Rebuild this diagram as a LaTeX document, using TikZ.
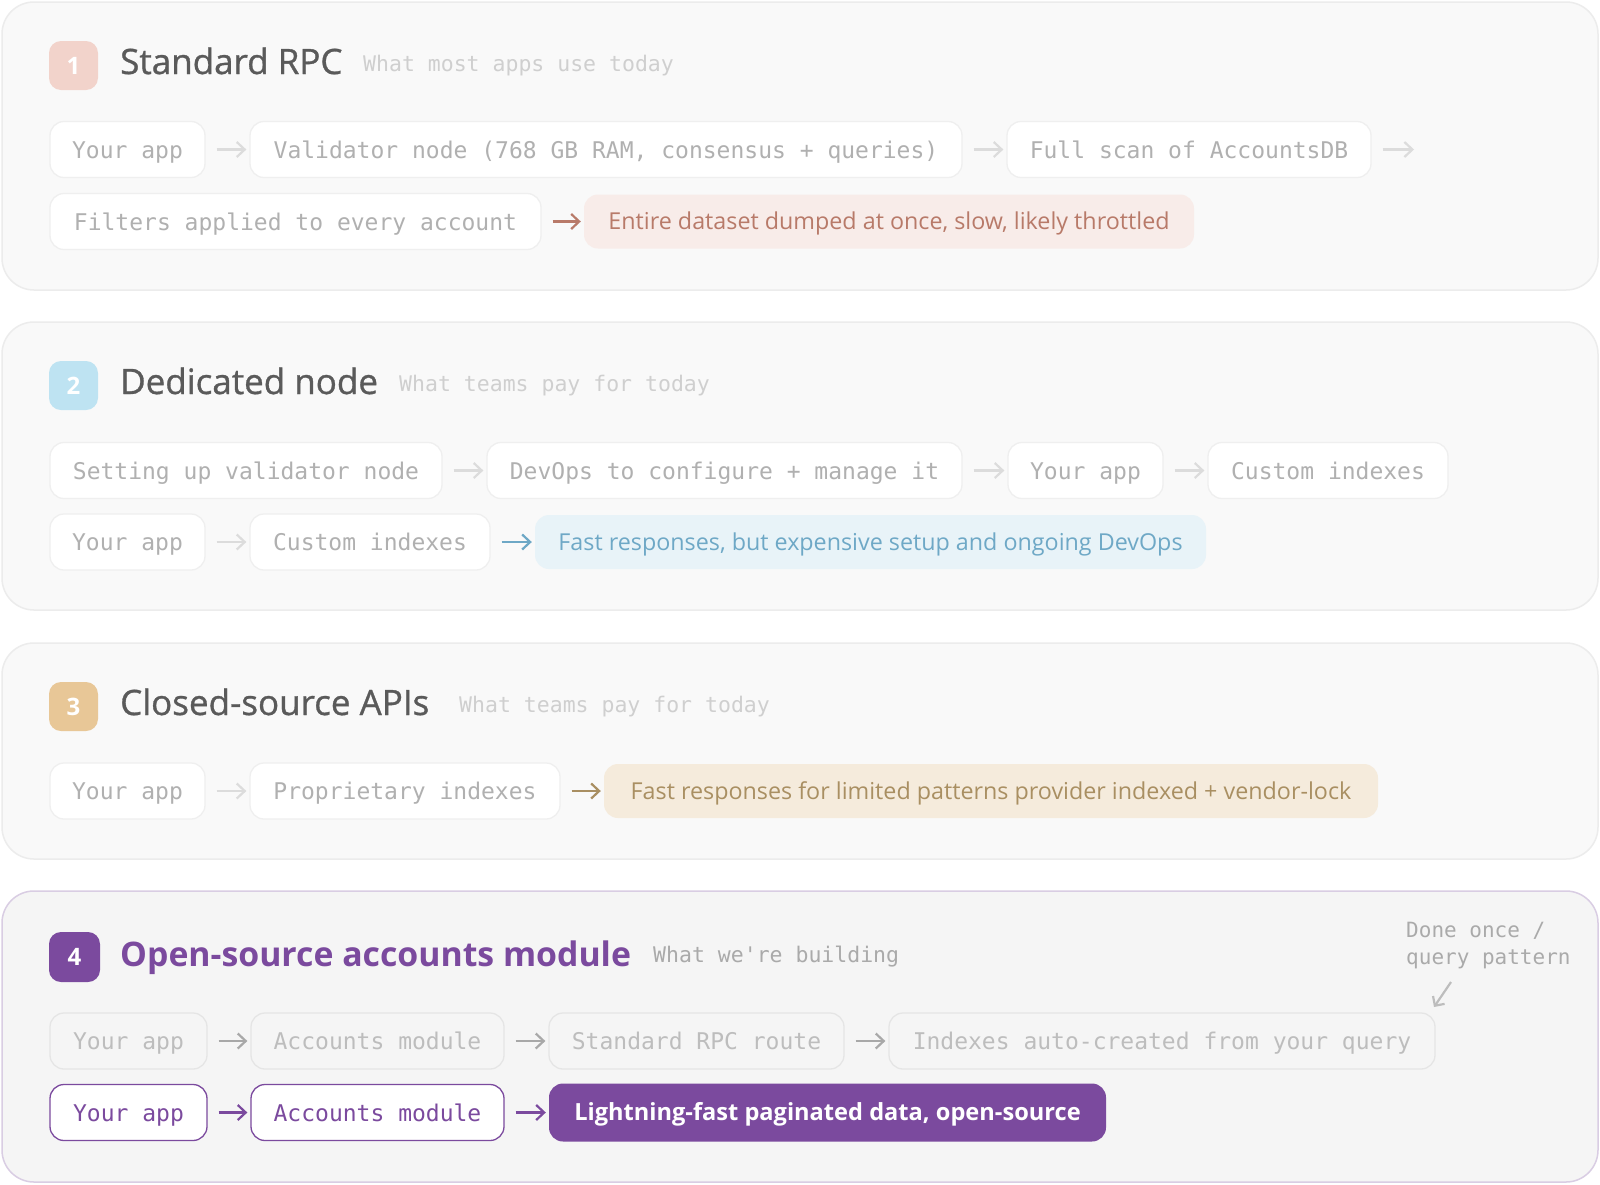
\documentclass[tikz,border=0pt]{standalone}
\usepackage{fontspec}
\setmainfont{Open Sans}
\setmonofont{DejaVu Sans Mono}
\newfontfamily\semib{Open Sans}[BoldFont={*}, BoldFeatures={FakeBold=0.9}]
\usetikzlibrary{arrows.meta}
\definecolor{panelfill}{HTML}{F9F9F9}
\definecolor{panelline}{HTML}{ECECEC}
\definecolor{pfourfill}{HTML}{F5F5F5}
\definecolor{pfourline}{HTML}{D9CDE3}
\definecolor{boxline}{HTML}{EFEFEF}
\definecolor{boxtext}{HTML}{B0B0B0}
\definecolor{arrgray}{HTML}{DCDCDC}
\definecolor{titlegray}{HTML}{5A5A5A}
\definecolor{subgray}{HTML}{CFCFCF}
\definecolor{redbadge}{HTML}{F2D3CB}
\definecolor{redfill}{HTML}{F8ECE9}
\definecolor{redtext}{HTML}{B87A69}
\definecolor{bluebadge}{HTML}{BEE3F2}
\definecolor{bluefill}{HTML}{E8F3F8}
\definecolor{bluetext}{HTML}{6EA8C6}
\definecolor{goldbadge}{HTML}{E8C797}
\definecolor{goldfill}{HTML}{F5EBDC}
\definecolor{goldtext}{HTML}{A98F62}
\definecolor{purp}{HTML}{7B4A9E}
\definecolor{fourline}{HTML}{E5E5E5}
\definecolor{fourtext}{HTML}{BDBDBD}
\definecolor{fourarr}{HTML}{A8A8A8}
\definecolor{notegray}{HTML}{AAAAAA}
\tikzset{
  panel/.style={draw=panelline, line width=1.5pt, fill=panelfill, rounded corners=32pt},
  badge/.style={rounded corners=12pt, minimum width=49pt, minimum height=49pt, inner sep=0pt, text height=17pt, text depth=0pt, text=white, font=\fontsize{24}{28}\selectfont\bfseries},
  title/.style={anchor=base west, inner sep=0pt, text=titlegray, font=\semib\fontsize{35}{40}\selectfont\bfseries},
  subtitle/.style={anchor=base west, inner sep=0pt, text=subgray, font=\ttfamily\fontsize{21.5}{26}\selectfont},
  box/.style={draw=boxline, line width=1.3pt, fill=white, rounded corners=14pt, inner sep=0pt, minimum height=56pt, text height=17pt, text depth=0pt, text=boxtext, font=\ttfamily\fontsize{23}{27}\selectfont},
  fourbox/.style={box, draw=fourline, fill=pfourfill, text=fourtext},
  purbox/.style={box, draw=purp, fill=white, text=purp},
  result/.style={rounded corners=14pt, inner sep=0pt, minimum height=54pt, text height=16.6pt, text depth=0pt, font=\fontsize{23.3}{28}\selectfont},
  arr/.style={-{Straight Barb[length=8pt,width=15pt]}, line width=2.2pt, draw=arrgray, shorten <=11pt, shorten >=3pt},
}
\begin{document}
\begin{tikzpicture}[x=1pt,y=-1pt]
\useasboundingbox (0,0) rectangle (1600,1184);
\fill[white] (0,0) rectangle (1600,1184);
% ---------------- Panel 1
\draw[panel] (2,2) rectangle (1598,290);
\node[badge, fill=redbadge] (b1) at (73.5,65.5) {1};
\node[title] (t1) at (120,74) {Standard RPC};
\node[subtitle] (s1) at (363,71) {What most apps use today};
\node[box, minimum width=155pt] (a1) at (127.5,149.5) {Your app};
\node[box, minimum width=712pt] (a2) at (606,149.5) {Validator node (768 GB RAM, consensus + queries)};
\node[box, minimum width=364pt] (a3) at (1189,149.5) {Full scan of AccountsDB};
\coordinate (a4) at (1414,149.5);
\draw[arr] (a1) -- (a2);
\draw[arr] (a2) -- (a3);
\draw[arr, shorten >=0pt] (a3) -- (a4);
\node[box, minimum width=491pt] (a5) at (295.5,221.5) {Filters applied to every account};
\node[result, fill=redfill, text=redtext, minimum width=610pt] (a6) at (889,221.5) {Entire dataset dumped at once, slow, likely throttled};
\draw[arr, draw=redtext] (a5) -- (a6);
% ---------------- Panel 2
\draw[panel] (2,322) rectangle (1598,610);
\node[badge, fill=bluebadge] (b2) at (73.5,385.5) {2};
\node[title] (t2) at (120,394) {Dedicated node};
\node[subtitle] (s2) at (399,391) {What teams pay for today};
\node[box, minimum width=392pt] (c1) at (246,470.5) {Setting up validator node};
\node[box, minimum width=475pt] (c2) at (724.5,470.5) {DevOps to configure + manage it};
\node[box, minimum width=155pt] (c3) at (1085.5,470.5) {Your app};
\node[box, minimum width=240pt] (c4) at (1328,470.5) {Custom indexes};
\draw[arr] (c1) -- (c2);
\draw[arr] (c2) -- (c3);
\draw[arr] (c3) -- (c4);
\node[box, minimum width=155pt] (c5) at (127.5,542) {Your app};
\node[box, minimum width=240pt] (c6) at (370,542) {Custom indexes};
\node[result, fill=bluefill, text=bluetext, minimum width=671pt] (c7) at (870.5,542) {Fast responses, but expensive setup and ongoing DevOps};
\draw[arr] (c5) -- (c6);
\draw[arr, draw=bluetext] (c6) -- (c7);
% ---------------- Panel 3
\draw[panel] (2,643) rectangle (1598,859);
\node[badge, fill=goldbadge] (b3) at (73.5,706.5) {3};
\node[title] (t3) at (120,715) {Closed-source APIs};
\node[subtitle] (s3) at (459,712) {What teams pay for today};
\node[box, minimum width=155pt] (d1) at (127.5,791) {Your app};
\node[box, minimum width=310pt] (d2) at (405,791) {Proprietary indexes};
\node[result, fill=goldfill, text=goldtext, minimum width=774pt] (d3) at (991,791) {Fast responses for limited patterns provider indexed + vendor-lock};
\draw[arr] (d1) -- (d2);
\draw[arr, draw=goldtext] (d2) -- (d3);
% ---------------- Panel 4
\draw[panel, fill=pfourfill, draw=pfourline] (2,891) rectangle (1598,1182);
\node[badge, fill=purp, minimum width=51pt, minimum height=50pt] (b4) at (74.5,957) {4};
\node[title, text=purp, font=\fontsize{33.8}{38}\selectfont\bfseries] (t4) at (120,966) {Open-source accounts module};
\node[subtitle, text=notegray] (s4) at (653,962) {What we're building};
\node[anchor=north west, align=left, inner sep=0pt, text=notegray, font=\ttfamily\fontsize{21}{27}\selectfont] (note) at (1406,922) {Done once /\\query pattern};
\coordinate (n1) at (1451,982);
\coordinate (n2) at (1434,1007);
\draw[line width=2.2pt, draw=fourtext, -{Straight Barb[length=7pt,width=14pt]}] (n1) -- (n2);
\node[fourbox, minimum width=157pt] (e1) at (128.5,1041) {Your app};
\node[fourbox, minimum width=253pt] (e2) at (377.5,1041) {Accounts module};
\node[fourbox, minimum width=295pt] (e3) at (696.5,1041) {Standard RPC route};
\node[fourbox, minimum width=546pt] (e4) at (1162,1041) {Indexes auto-created from your query};
\draw[arr, draw=fourarr] (e1) -- (e2);
\draw[arr, draw=fourarr] (e2) -- (e3);
\draw[arr, draw=fourarr] (e3) -- (e4);
\node[purbox, minimum width=157pt] (f1) at (128.5,1112.5) {Your app};
\node[purbox, minimum width=253pt] (f2) at (377.5,1112.5) {Accounts module};
\node[result, fill=purp, text=white, minimum width=557pt, minimum height=58pt, font=\fontsize{23.6}{28}\selectfont\bfseries] (f3) at (827.5,1112.5) {Lightning-fast paginated data, open-source};
\draw[arr, draw=purp] (f1) -- (f2);
\draw[arr, draw=purp] (f2) -- (f3);
\end{tikzpicture}
\end{document}
